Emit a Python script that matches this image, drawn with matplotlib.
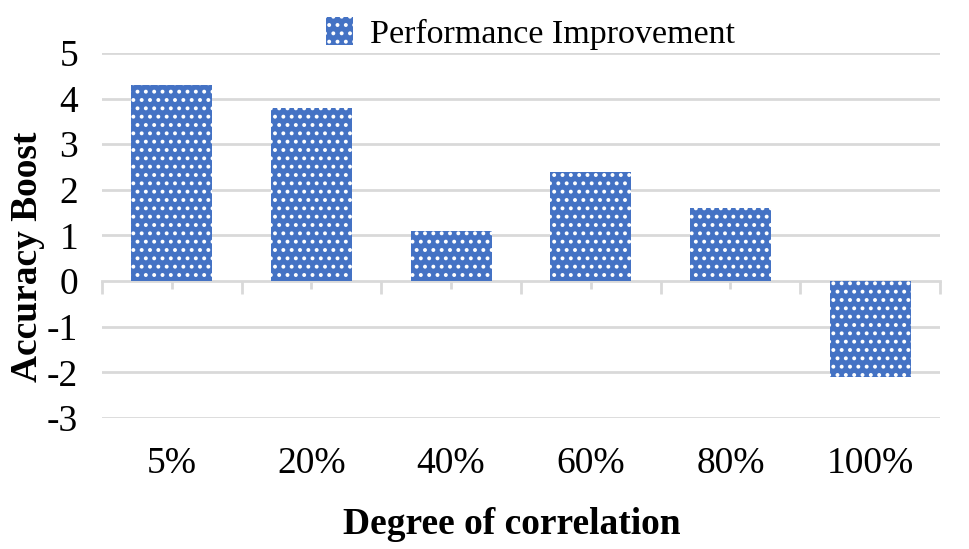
import matplotlib.pyplot as plt
from matplotlib.patches import Patch
from matplotlib.transforms import blended_transform_factory

# values
categories = ['5%', '20%', '40%', '60%', '80%', '100%']
boost = [4.3, 3.8, 1.1, 2.4, 1.6, -2.1]
y_ticks = [-3, -2, -1, 0, 1, 2, 3, 4, 5]

plt.rcParams['font.family'] = ['Liberation Serif', 'DejaVu Serif']
plt.rcParams['hatch.linewidth'] = 1.6

bar_color = '#4472C4'
grid_color = '#D9D9D9'

fig = plt.figure(figsize=(9.7, 5.49), dpi=100)
ax = fig.add_axes([0.105, 0.2386, 0.864, 0.6649])

x = list(range(len(categories)))
ax.bar(x, boost, width=0.58, color=bar_color, edgecolor='white',
       linewidth=0, hatch='..', zorder=3)

ax.set_xlim(-0.5, len(categories) - 0.5)
ax.set_ylim(-3, 5)
ax.set_yticks(y_ticks)
ax.set_yticklabels([str(v) for v in y_ticks], fontsize=27)
ax.tick_params(axis='y', length=0, pad=17)

# grid lines
for v in y_ticks:
    if v != 0:
        ax.axhline(v, color=grid_color, lw=2, zorder=1)

for s in ['top', 'right', 'left']:
    ax.spines[s].set_visible(False)
ax.spines['bottom'].set_position(('data', 0))
ax.spines['bottom'].set_color(grid_color)
ax.spines['bottom'].set_linewidth(2)
ax.spines['bottom'].set_zorder(2)

# major ticks at category boundaries, minor at centers
ax.set_xticks([i - 0.5 for i in range(len(categories) + 1)])
ax.set_xticklabels([])
ax.set_xticks(x, minor=True)
ax.tick_params(axis='x', which='major', length=9, width=2, color=grid_color, direction='out')
ax.tick_params(axis='x', which='minor', length=6, width=2, color=grid_color, direction='out')

# category labels below the plot
trans = blended_transform_factory(ax.transData, ax.transAxes)
for i, c in enumerate(categories):
    ax.text(i, -0.125, c, transform=trans, ha='center', va='center', fontsize=27)

fig.text(0.528, 0.045, 'Degree of correlation', ha='center', va='center',
         fontsize=27, fontweight='bold')
fig.text(0.028, 0.532, 'Accuracy Boost', ha='center', va='center',
         fontsize=27, fontweight='bold', rotation=90)

handle = Patch(facecolor=bar_color, edgecolor='white', linewidth=0, hatch='..')
fig.legend([handle], ['Performance Improvement'], loc='upper center',
           bbox_to_anchor=(0.547, 1.025), frameon=False, fontsize=24.5,
           handlelength=0.8, handleheight=0.9, handletextpad=0.5)

fig.savefig('out.png', dpi=100)
